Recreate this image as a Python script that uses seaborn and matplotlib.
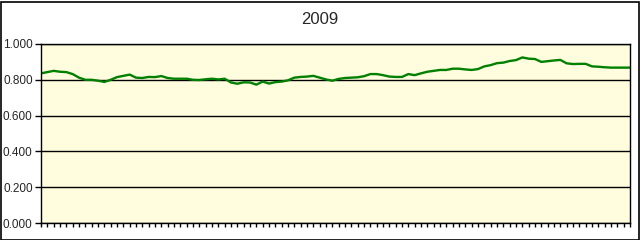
import matplotlib
matplotlib.use("Agg")
import matplotlib.pyplot as plt
import seaborn as sns
import pandas as pd
import numpy as np
from matplotlib.patches import Rectangle

title = "2009"
values = [
    0.836, 0.843, 0.850, 0.845, 0.843, 0.832, 0.812, 0.800, 0.800, 0.795,
    0.788, 0.800, 0.815, 0.822, 0.829, 0.812, 0.810, 0.816, 0.815, 0.821,
    0.810, 0.806, 0.806, 0.806, 0.800, 0.799, 0.803, 0.806, 0.802, 0.806,
    0.785, 0.778, 0.786, 0.785, 0.773, 0.790, 0.779, 0.787, 0.790, 0.797,
    0.812, 0.816, 0.818, 0.822, 0.812, 0.802, 0.795, 0.805, 0.810, 0.812,
    0.814, 0.820, 0.832, 0.832, 0.826, 0.818, 0.816, 0.816, 0.832, 0.826,
    0.836, 0.845, 0.850, 0.855, 0.855, 0.862, 0.862, 0.858, 0.855, 0.860,
    0.875, 0.882, 0.893, 0.896, 0.905, 0.910, 0.925, 0.918, 0.916, 0.900,
    0.904, 0.908, 0.911, 0.892, 0.888, 0.889, 0.889, 0.875, 0.873, 0.870,
    0.868, 0.868, 0.868, 0.868,
]
categories = list(range(len(values)))
y_ticks = [0.0, 0.2, 0.4, 0.6, 0.8, 1.0]

df = pd.DataFrame({"cat": categories, "value": values})

sns.set_style("white")
plt.rcParams["font.family"] = ["Liberation Sans", "DejaVu Sans"]

fig = plt.figure(figsize=(6.4, 2.4), dpi=100)
fig.patch.set_facecolor("white")
ax = fig.add_axes([41 / 640, 17 / 240, 589 / 640, 179 / 240])
ax.set_facecolor("#FFFDDD")

sns.lineplot(data=df, x="cat", y="value", ax=ax, color="#008000", linewidth=1.7)

ax.set_xlim(categories[0], categories[-1])
ax.set_ylim(0, 1.0)
ax.set_yticks(y_ticks)
ax.set_yticklabels([f"{t:.3f}" for t in y_ticks], fontsize=8.5)
ax.yaxis.grid(True, color="black", linewidth=1.0)
ax.set_axisbelow(True)
ax.set_xticks(categories)
ax.set_xticklabels([])
ax.tick_params(axis="x", bottom=True, direction="out", length=3, width=1, color="black")
ax.tick_params(axis="y", left=True, direction="out", length=4, width=1, color="black", pad=2)
ax.set_xlabel("")
ax.set_ylabel("")
for s in ax.spines.values():
    s.set_visible(True)
    s.set_color("black")
    s.set_linewidth(1.0)

fig.text(0.5, 1 - 20 / 240, title, ha="center", va="center", fontsize=12)

fig.patches.append(Rectangle((0.5 / 640, 0.5 / 240), 638 / 640, 238 / 240,
                             transform=fig.transFigure, fill=False,
                             edgecolor="black", linewidth=1.2))

fig.savefig("out.png", dpi=100)
